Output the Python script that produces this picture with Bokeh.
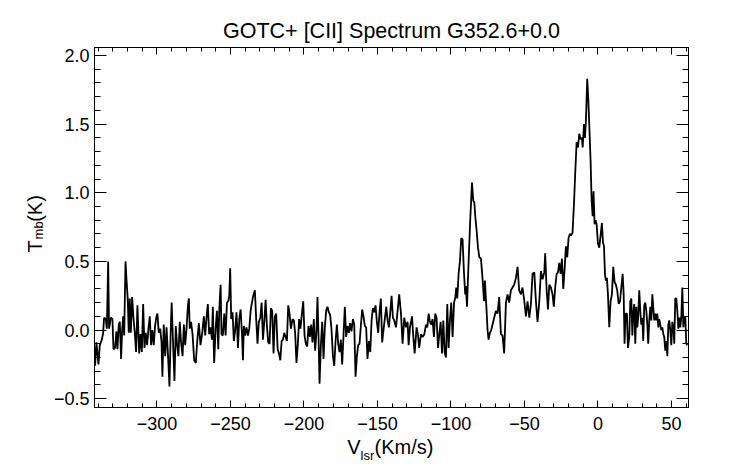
import math
from bokeh.plotting import figure
from bokeh.models import (Range1d, LinearAxis, FixedTicker, Label,
                          CustomJSTickFormatter)
from bokeh.embed import file_html
from bokeh.resources import INLINE

# ---- data ----
velocity = [
    -342.8, -342.1, -341.2, -339.8, -338.9, -337.5, -336.6, -336.0, -334.8, -334.1,
    -333.2, -332.6, -331.4, -330.3, -329.6, -328.5, -327.6, -326.9, -326.0, -325.3,
    -324.4, -323.7, -323.0, -322.3, -321.4, -320.8, -319.9, -319.2, -318.5, -317.8,
    -316.9, -316.0, -315.1, -314.2, -313.3, -312.1, -311.2, -310.3, -309.4, -308.5,
    -307.6, -306.7, -305.8, -304.9, -304.0, -303.1, -302.2, -301.3, -300.3, -299.7,
    -298.8, -297.8, -296.9, -296.3, -295.4, -294.4, -293.5, -292.6, -291.5, -290.6,
    -290.0, -289.0, -288.1, -287.2, -286.3, -285.4, -284.5, -283.6, -282.6, -281.7,
    -280.8, -279.9, -279.0, -278.3, -277.7, -276.8, -275.8, -274.7, -273.6,
    -272.6, -271.5, -270.4, -269.2, -268.1, -267.2, -266.3, -265.4, -264.5, -263.6,
    -262.6, -262.0, -261.1, -260.1, -259.2, -258.3, -257.6, -256.7, -256.1, -255.2,
    -254.2, -253.3, -252.4, -251.5, -250.8, -250.2, -249.5, -248.6, -247.7, -246.8,
    -245.9, -244.9, -244.0, -243.1, -242.2, -241.5, -240.9, -240.0, -239.1, -238.1,
    -237.2, -236.3, -235.4, -234.5, -233.4, -232.5, -231.6, -230.7, -229.7, -228.8,
    -227.9, -227.0, -226.1, -225.2, -224.3, -223.4, -222.5, -221.6, -220.7, -219.8,
    -218.9, -217.9, -217.0, -216.1, -215.2, -214.3, -213.4, -212.5, -211.6, -210.7,
    -209.8, -208.9,
    -207.8, -206.9, -206.0, -205.1, -204.2, -203.3, -202.4, -201.4, -200.5, -199.6,
    -198.7, -197.8, -196.9, -196.0, -195.1, -194.2, -193.3, -192.4, -191.5, -190.8,
    -190.1, -189.4, -188.5, -187.6, -186.7, -185.8, -184.9, -184.0, -183.1, -182.2,
    -181.3, -180.3, -179.4, -178.5, -177.6, -176.7, -175.8, -174.9, -174.0, -173.1,
    -172.2, -171.3, -170.4, -169.5, -168.6, -167.7, -166.7, -165.8, -164.9, -164.0,
    -163.1, -162.2, -161.3, -160.4, -159.5, -158.6, -157.7, -156.8, -155.8, -154.9,
    -154.0, -153.1, -152.2, -151.3, -150.4, -149.5, -148.6, -147.7, -146.8, -145.9,
    -144.9, -144.0, -143.1, -142.2, -141.3, -140.4, -139.5, -138.6,
    -137.4, -136.3, -135.2, -134.0, -132.9, -131.8, -130.6, -129.5, -128.8, -127.9,
    -126.5, -125.6, -124.7, -123.4, -122.5, -121.6, -120.4, -119.3, -118.1, -117.0,
    -116.1, -115.2, -114.3, -113.4, -112.5, -111.6, -110.7, -109.8, -108.8, -107.9,
    -107.0, -106.1, -105.2, -104.3, -103.4, -102.5, -101.6, -100.7, -99.8, -98.9,
    -97.9, -97.0, -96.4, -95.7, -94.8, -93.9, -93.0, -92.1, -91.2, -90.3,
    -89.8, -89.1, -88.0, -86.9, -85.7, -84.8, -84.1, -83.4, -82.5, -81.6,
    -80.7, -79.6, -78.4, -77.5, -76.9, -76.0, -75.1, -74.4, -73.5, -72.6,
    -71.7, -70.6, -69.4, -68.3, -67.2, -66.0, -64.9, -63.8, -62.6, -61.5,
    -60.4, -59.2, -58.1, -57.0, -55.8, -54.7, -53.6, -52.4, -51.3, -50.1,
    -49.0, -47.9, -46.7, -45.6, -44.5, -43.3, -42.2, -41.1, -39.9, -38.8,
    -37.7, -36.5, -35.9, -34.9, -34.0, -33.1, -32.0, -30.9, -30.0, -29.1,
    -28.1, -27.2, -26.3, -25.4, -24.5, -23.6, -22.7, -21.8, -20.9, -20.0,
    -19.1, -18.2, -17.3, -16.3, -15.4, -14.5, -13.6, -12.7, -11.8, -10.9,
    -10.4, -9.5, -8.9, -8.2, -7.3, -6.6, -6.0,
    -5.0, -4.3, -3.6, -3.0, -2.3, -1.6, -0.9, 0.0, 0.9, 1.8,
    2.7, 3.4, 4.1, 4.8, 5.4, 6.1, 6.8, 7.7, 8.6, 9.5,
    10.4, 11.3, 12.2, 13.1, 14.1, 15.0, 15.9, 16.8, 17.5, 18.1,
    18.8, 19.7, 20.4, 21.3, 22.0, 22.7, 23.4, 24.0, 24.7, 25.4,
    26.1, 26.8, 27.4, 28.1, 28.8, 29.5, 30.2, 30.8, 31.5, 32.2,
    32.9, 33.6, 34.2, 34.9, 35.6, 36.3, 37.0, 37.6, 38.3, 39.0,
    39.7, 40.4, 41.1, 41.7, 42.4, 43.1, 43.8, 44.5, 45.1, 45.8,
    46.5, 47.2, 47.9, 48.5, 49.2, 49.9, 50.6, 51.3, 51.9, 52.6,
    53.3, 54.0, 54.7, 55.4, 56.0, 56.7, 57.4, 58.1, 58.7, 59.4,
    60.1, 60.8,
]

tmb = [
    -0.11, -0.26, -0.09, -0.25, -0.11, -0.07, -0.02, 0.09, 0.08, 0.01,
    0.50, 0.01, 0.09, 0.08, -0.14, -0.13, -0.01, -0.14, 0.04, 0.06,
    -0.21, 0.00, 0.10, -0.04, 0.50, 0.38, 0.23, -0.02, 0.23, -0.02,
    0.24, 0.09, -0.02, -0.16, 0.18, -0.17, -0.03, -0.16, 0.19, -0.13,
    -0.02, -0.11, 0.01, 0.10, -0.11, 0.00, -0.11, 0.03, 0.10, 0.12,
    -0.02, 0.01, -0.09, -0.34, 0.04, -0.19, 0.02, -0.16, -0.41, 0.01,
    0.20, -0.11, -0.37, 0.03, -0.11, -0.19, 0.06, -0.09, -0.19, 0.04,
    -0.11, 0.01, 0.17, 0.23, 0.01, 0.06, -0.03, -0.22, -0.24,
    -0.08, 0.05, -0.11, -0.02, 0.10, -0.04, 0.09, 0.19, -0.03, 0.02,
    -0.07, 0.17, -0.24, 0.01, 0.14, -0.14, 0.15, 0.33, -0.03, -0.04,
    0.12, -0.04, 0.20, 0.21, 0.25, 0.45, 0.08, 0.13, -0.08, 0.00,
    0.13, -0.13, 0.08, 0.15, -0.02, -0.22, 0.03, -0.04, 0.02, -0.04,
    0.01, 0.14, 0.20, 0.25, 0.29, 0.08, -0.10, 0.06, 0.09, 0.20,
    -0.07, 0.06, 0.22, 0.03, -0.09, -0.10, 0.16, 0.14, -0.17, 0.10,
    0.12, -0.14, -0.17, -0.22, -0.08, -0.07, -0.02, -0.05, -0.08, 0.18,
    0.12, 0.01,
    0.08, 0.07, -0.02, -0.24, -0.11, 0.08, 0.01, 0.12, 0.21, -0.04,
    -0.10, -0.12, 0.03, -0.05, 0.04, -0.09, 0.08, -0.15, -0.01, 0.24,
    -0.04, -0.39, -0.11, 0.06, -0.21, 0.02, 0.14, 0.17, 0.13, 0.11,
    0.01, -0.19, -0.26, -0.08, 0.04, -0.10, -0.16, -0.07, -0.25, -0.04,
    0.17, -0.05, 0.03, -0.02, 0.05, -0.01, 0.08, 0.04, -0.34, -0.19,
    -0.11, -0.10, 0.03, 0.15, 0.10, 0.03, 0.02, -0.21, -0.08, -0.16,
    0.07, 0.16, 0.13, 0.18, 0.06, -0.02, 0.13, 0.23, -0.09, 0.00,
    0.09, 0.17, 0.07, 0.02, 0.13, 0.25, 0.09, 0.07,
    0.02, 0.14, 0.26, 0.12, -0.10, 0.09, 0.02, 0.06, -0.11, 0.02,
    0.10, -0.05, -0.17, 0.02, -0.03, -0.13, -0.03, -0.05, -0.03, 0.04,
    0.02, 0.12, 0.06, 0.04, 0.08, -0.05, 0.12, 0.09, -0.13, -0.03,
    0.06, -0.17, 0.07, -0.16, -0.20, 0.19, -0.13, 0.07, 0.20, -0.05,
    0.20, 0.24, 0.31, 0.23, 0.41, 0.50, 0.67, 0.66, 0.43, 0.26,
    0.32, 0.17, 0.50, 0.80, 1.075, 0.94, 0.93, 0.82, 0.72, 0.60,
    0.53, 0.52, 0.36, 0.21, 0.36, 0.19, 0.00, -0.07, -0.02, 0.00,
    0.04, 0.09, 0.14, 0.12, 0.24, -0.03, -0.04, -0.17, 0.20, 0.26,
    0.20, 0.29, 0.31, 0.33, 0.38, 0.46, 0.29, 0.26, 0.31, 0.21,
    0.10, 0.21, 0.09, 0.19, 0.41, 0.42, 0.21, 0.06, 0.21, 0.43,
    0.37, 0.42, 0.56, 0.29, 0.15, 0.33, 0.31, 0.26, 0.17, 0.31,
    0.41, 0.42, 0.49, 0.41, 0.52, 0.30, 0.44, 0.61, 0.53, 0.67,
    0.70, 0.69, 0.71, 0.92, 1.16, 1.37, 1.33, 1.43, 1.39, 1.40,
    1.33, 1.50, 1.40, 1.52, 1.83, 1.69, 1.52,
    1.23, 0.94, 0.83, 1.01, 0.77, 0.80, 0.77, 0.63, 0.60, 0.69,
    0.78, 0.64, 0.61, 0.40, 0.36, 0.38, 0.26, 0.02, 0.21, 0.26,
    0.46, 0.35, 0.33, 0.29, 0.19, 0.21, 0.31, 0.41, 0.26, -0.10,
    0.12, 0.12, -0.13, -0.05, 0.21, 0.23, -0.04, 0.12, 0.19, -0.10,
    0.17, 0.02, 0.10, 0.29, 0.14, 0.04, 0.09, -0.08, 0.18, 0.20,
    0.14, 0.04, -0.10, 0.07, 0.17, 0.07, 0.26, 0.17, 0.07, 0.12,
    0.07, 0.12, 0.02, 0.08, 0.04, 0.00, 0.02, -0.03, -0.05, -0.15,
    -0.08, -0.19, 0.04, 0.07, 0.00, -0.11, 0.06, 0.02, -0.10, 0.23,
    0.23, 0.14, 0.01, 0.09, 0.02, 0.09, 0.31, 0.02, 0.09, 0.10,
    -0.10, -0.11,
]

x_major = [-300, -250, -200, -150, -100, -50, 0, 50]
x_minor = list(range(-340, 61, 10))
y_major = [-0.5, 0.0, 0.5, 1.0, 1.5, 2.0]
y_minor = [round(-0.5 + 0.1 * i, 1) for i in range(26)]

title_text = "GOTC+ [CII] Spectrum G352.6+0.0"
FONT = "Liberation Sans"

X0, X1 = -342.5, 61.6
Y0, Y1 = -0.564, 2.058

p = figure(width=742, height=464, output_backend="svg", toolbar_location=None,
           x_range=Range1d(X0, X1), y_range=Range1d(Y0, Y1),
           x_axis_location=None, y_axis_location=None,
           min_border_left=94, min_border_right=54,
           min_border_top=47, min_border_bottom=57)
p.background_fill_color = "white"
p.border_fill_color = "white"
p.grid.visible = False
p.outline_line_color = "black"
p.outline_line_width = 1

xfmt = CustomJSTickFormatter(code="return (tick < 0 ? '\u2212' : '') + Math.abs(tick).toFixed(0);")
yfmt = CustomJSTickFormatter(code="return (tick < 0 ? '\u2212' : '') + Math.abs(tick).toFixed(1);")
nofmt = CustomJSTickFormatter(code="return '';")

def style_axis(ax, tick_major, tick_minor, standoff):
    ax.major_tick_in = tick_major
    ax.major_tick_out = 0
    ax.minor_tick_in = tick_minor
    ax.minor_tick_out = 0
    ax.axis_line_color = "black"
    ax.major_tick_line_color = "black"
    ax.minor_tick_line_color = "black"
    ax.major_label_text_font = FONT
    ax.major_label_text_color = "black"
    ax.major_label_text_font_size = "18px"
    ax.major_label_standoff = standoff
    return ax

xb = style_axis(LinearAxis(ticker=FixedTicker(ticks=x_major, minor_ticks=x_minor),
                           formatter=xfmt), 7, 4, 9)
xt = style_axis(LinearAxis(ticker=FixedTicker(ticks=x_major, minor_ticks=x_minor),
                           formatter=nofmt), 7, 4, 0)
yl = style_axis(LinearAxis(ticker=FixedTicker(ticks=y_major, minor_ticks=y_minor),
                           formatter=yfmt), 12, 6, 5)
yr = style_axis(LinearAxis(ticker=FixedTicker(ticks=y_major, minor_ticks=y_minor),
                           formatter=nofmt), 12, 6, 0)
p.add_layout(xb, "below")
p.add_layout(xt, "above")
p.add_layout(yl, "left")
p.add_layout(yr, "right")

p.line(velocity, tmb, line_color="black", line_width=1.8)

def lab(x, y, text, size, angle=0.0, align="left"):
    return Label(x=x, y=y, text=text, text_font=FONT, text_font_size=size,
                 text_color="black", angle=angle,
                 text_align=align, text_baseline="alphabetic")

# title
p.add_layout(lab((X0 + X1) / 2, 2.176, title_text, "21.5px", align="center"), "above")

# x axis label: V_lsr(Km/s)
p.add_layout(lab(-170.6, -0.855, "V", "20px"), "below")
p.add_layout(lab(-161.5, -0.910, "lsr", "13px"), "right")
p.add_layout(lab(-152.0, -0.855, "(Km/s)", "20px"), "above")

# y axis label: T_mb(K)
p.add_layout(lab(-382.9, 0.565, "T", "20px", math.pi / 2), "left")
p.add_layout(lab(-380.6, 0.660, "mb", "13px", math.pi / 2), "left")
p.add_layout(lab(-382.9, 0.788, "(K)", "20px", math.pi / 2), "right")

open("out.html", "w").write(file_html(p, INLINE))
